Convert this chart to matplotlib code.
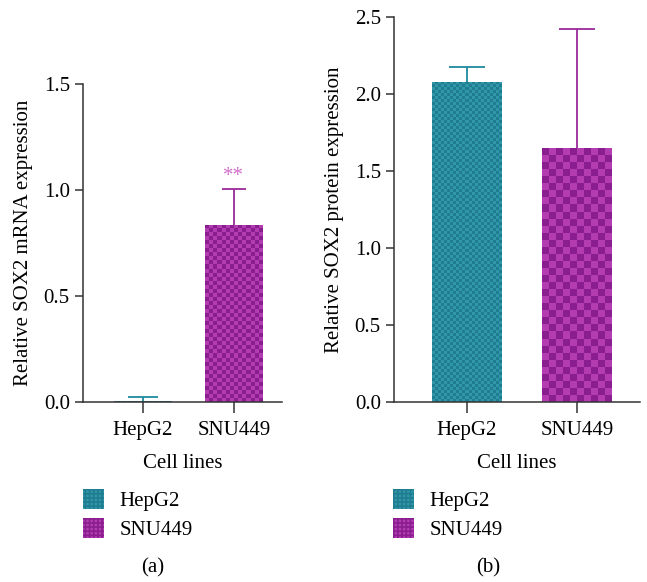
import numpy as np
import matplotlib
matplotlib.use("Agg")
from matplotlib import pyplot as plt
from matplotlib.colors import ListedColormap
from matplotlib.patches import Patch

plt.rcParams['font.family'] = ['Liberation Serif', 'DejaVu Serif']
plt.rcParams['font.size'] = 15
plt.rcParams['hatch.linewidth'] = 1.2

cell_lines = ["HepG2", "SNU449"]
mrna_mean = [0.005, 0.835]
mrna_err = [0.019, 0.17]
protein_mean = [2.078, 1.649]
protein_err = [0.10, 0.77]

teal = ("#3096aa", "#1f7d8f")
magenta = ("#b33cb0", "#8a1e90")
err_colors = ["#1f8aa0", "#9a2a9a"]
spine_col = "#333333"


def checker_bar(ax, patch, colors, cell_px):
    # overlay a checker image clipped to the bar
    fig = ax.figure
    fig.canvas.draw()
    x0, y0 = patch.get_x(), patch.get_y()
    x1, y1 = x0 + patch.get_width(), y0 + patch.get_height()
    p0 = ax.transData.transform((x0, y0))
    p1 = ax.transData.transform((x1, y1))
    ncol = max(1, int(round(abs(p1[0] - p0[0]) / cell_px)))
    nrow = max(1, int(round(abs(p1[1] - p0[1]) / cell_px)))
    grid = (np.indices((nrow, ncol)).sum(axis=0) % 2).astype(float)
    im = ax.imshow(grid, extent=(x0, x1, y0, y1), cmap=ListedColormap(list(colors)),
                   interpolation="nearest", aspect="auto", origin="lower", zorder=2)
    im.set_clip_path(patch)


def panel(ax, means, errs, ylim, yticks, xlim, caps, cells, ylabel):
    bars = ax.bar(range(len(means)), means, width=0.63,
                  color=[teal[0], magenta[0]], edgecolor="none", zorder=1)
    for i in range(len(means)):
        _, caplines, _ = ax.errorbar(i, means[i], yerr=[[0], [errs[i]]], fmt="none",
                                     ecolor=err_colors[i], elinewidth=1.3, capsize=caps[i],
                                     capthick=1.3, zorder=3)
        caplines[0].set_visible(False)  # only the upper cap
    ax.set_xlim(xlim)
    ax.set_ylim(ylim)
    ax.set_yticks(yticks)
    ax.set_yticklabels(["%.1f" % t for t in yticks])
    ax.set_xticks(range(len(means)))
    ax.set_xticklabels(cell_lines)
    ax.set_xlabel("Cell lines", labelpad=10)
    ax.set_ylabel(ylabel, labelpad=8)
    for s in ["top", "right"]:
        ax.spines[s].set_visible(False)
    for s in ["left", "bottom"]:
        ax.spines[s].set_color(spine_col)
        ax.spines[s].set_linewidth(1.1)
    ax.tick_params(axis="y", direction="out", length=6, width=1.1, color=spine_col)
    ax.tick_params(axis="x", direction="out", length=8, width=1.1, color=spine_col, pad=6)
    for b, cols, c in zip(bars, [teal, magenta], cells):
        checker_bar(ax, b, cols, c)
    ax.set_xlim(xlim)
    ax.set_ylim(ylim)
    return bars


fig = plt.figure(figsize=(6.47, 5.82), dpi=100)
ax1 = fig.add_axes([83 / 647, 1 - 402 / 582, 199 / 647, 318 / 582])
ax2 = fig.add_axes([394 / 647, 1 - 402 / 582, 246 / 647, 385 / 582])

panel(ax1, mrna_mean, mrna_err, (0, 1.5), [0, 0.5, 1.0, 1.5], (-0.66, 1.53),
      [10.5, 8.3], [3, 4], "Relative SOX2 mRNA expression")
ax1.text(1, mrna_mean[1] + mrna_err[1] + 0.015, "**", ha="center", va="bottom",
         color="#d070c8", fontsize=15)

panel(ax2, protein_mean, protein_err, (0, 2.5), [0, 0.5, 1.0, 1.5, 2.0, 2.5],
      (-0.66, 1.57), [13, 13], [3, 7], "Relative SOX2 protein expression")

for ax, lx, tag, tx in [(ax1, 83 / 647, "(a)", 153 / 647), (ax2, 393 / 647, "(b)", 488 / 647)]:
    handles = [Patch(facecolor=teal[0], edgecolor=teal[1], hatch="++++", linewidth=0),
               Patch(facecolor=magenta[0], edgecolor=magenta[1], hatch="++++", linewidth=0)]
    fig.legend(handles, cell_lines, loc="upper left", bbox_to_anchor=(lx, 1 - 489 / 582),
               frameon=False, handlelength=1.0, handleheight=1.1, handletextpad=0.75,
               labelspacing=0.35, borderaxespad=0, borderpad=0)
    fig.text(tx, 1 - 568 / 582, tag, ha="center", va="center", fontsize=15)

fig.savefig("out.png", dpi=100)
